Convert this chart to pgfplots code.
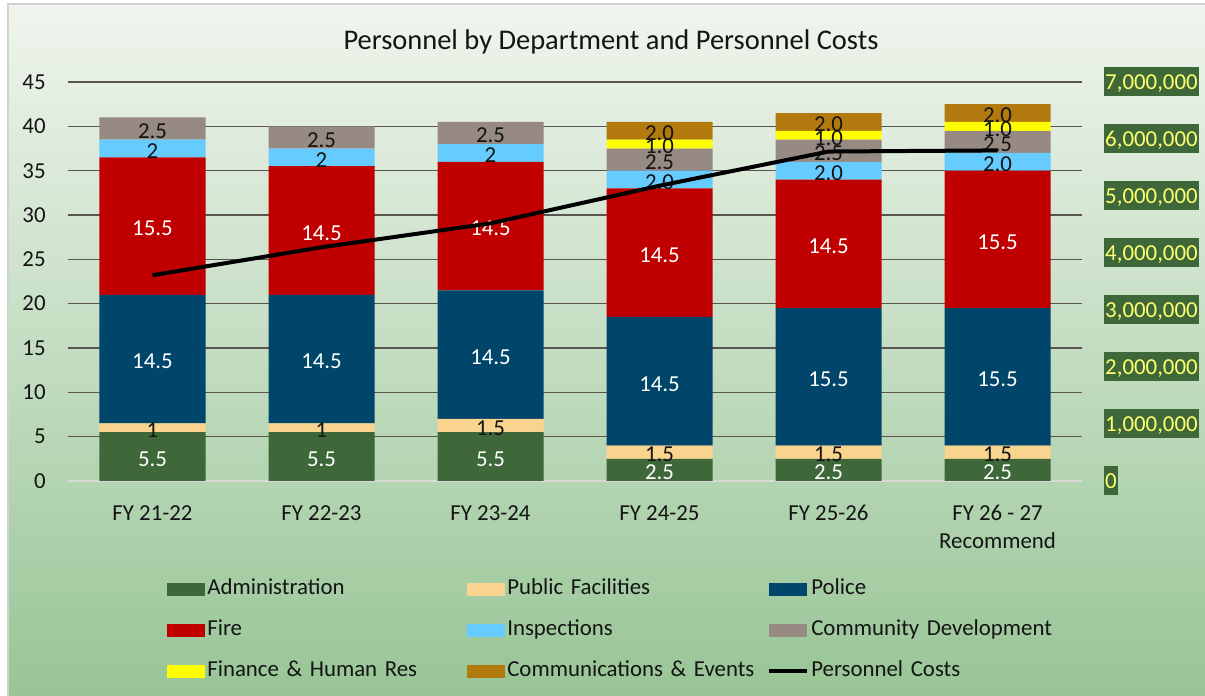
\documentclass[border=0pt]{standalone}
\usepackage{fontspec}
\setmainfont{Carlito}
\usepackage{pgfplots}
\pgfplotsset{compat=1.18}
\definecolor{cAdmin}{RGB}{62,104,58}
\definecolor{cPF}{RGB}{249,212,143}
\definecolor{cPolice}{RGB}{0,70,106}
\definecolor{cFire}{RGB}{192,0,0}
\definecolor{cInsp}{RGB}{102,204,255}
\definecolor{cCD}{RGB}{150,138,130}
\definecolor{cFin}{RGB}{255,255,0}
\definecolor{cComm}{RGB}{178,122,14}
\definecolor{bgtop}{RGB}{240,245,238}
\definecolor{bgbot}{RGB}{152,197,150}
\definecolor{gridc}{RGB}{90,85,80}
\definecolor{lblyellow}{RGB}{255,255,110}
\definecolor{txt}{RGB}{20,20,20}
\newcommand\fs{\fontsize{13}{15.6}\selectfont}
\pgfplotsset{
  mybar/.style={fill=#1, draw=none,
    legend image code/.code={\fill[##1] (0cm,-0.13cm) rectangle (0.76cm,0.13cm);}},
  myline/.style={legend image code/.code={\draw[##1] (0cm,0cm) -- (0.76cm,0cm);}},
  lbl/.style={nodes near coords, point meta=explicit symbolic,
    every node near coord/.style={anchor=center, inner sep=0pt, font=\fs, text=#1, yshift=-0.05cm}},
}
\begin{document}
\begin{tikzpicture}[x=1cm,y=1cm]
\useasboundingbox (0,0) rectangle (24.10,13.92);
\fill[white] (0,0) rectangle (24.10,13.92);
\shade[top color=bgtop, bottom color=bgbot] (0.16,0) rectangle (24.10,13.84);
\draw[gray!35, line width=0.04cm] (0.16,0) -- (0.16,13.84) -- (24.10,13.84);
\node[font=\fontsize{16.2}{19}\selectfont, text=txt] at (12.22,13.09) {Personnel by Department and Personnel Costs};
\begin{axis}[
  at={(1.36cm,4.30cm)}, anchor=south west, scale only axis,
  width=20.28cm, height=7.98cm,
  ybar stacked, bar width=2.12cm,
  xmin=-0.5, xmax=5.5, ymin=0, ymax=45,
  ytick={0,5,10,15,20,25,30,35,40,45},
  xtick={0,1,2,3,4,5},
  xticklabels={FY 21-22, FY 22-23, FY 23-24, FY 24-25, FY 25-26, {FY 26 - 27\\Recommend}},
  ymajorgrids, grid style={gridc, line width=0.6pt},
  axis x line*=bottom, axis y line*=left,
  y axis line style={draw=none},
  x axis line style={draw=gray!30, line width=0.04cm},
  major tick length=0pt,
  tick label style={font=\fs, text=txt},
  yticklabel style={anchor=east, inner sep=0pt, xshift=-0.44cm},
  xticklabel style={anchor=north, align=center, inner sep=0pt, yshift=-0.48cm},
  /pgf/number format/assume math mode=true,
  legend columns=3,
  legend cell align=left,
  legend style={at={(0.0976,-0.2406)}, anchor=north west, draw=none, fill=none, inner sep=0pt, column sep=0pt, row sep=0.34cm, font=\fs, text=txt,
    nodes={inner sep=0.04cm, text height=0.3cm, text depth=0.1cm, text width=5.16cm}},
]
\addplot[mybar=cAdmin, lbl=white] coordinates {(0,5.5)[5.5] (1,5.5)[5.5] (2,5.5)[5.5] (3,2.5)[2.5] (4,2.5)[2.5] (5,2.5)[2.5]};
\addlegendentry{Administration}
\addplot[mybar=cPF, lbl=txt] coordinates {(0,1)[1] (1,1)[1] (2,1.5)[1.5] (3,1.5)[1.5] (4,1.5)[1.5] (5,1.5)[1.5]};
\addlegendentry{Public Facilities}
\addplot[mybar=cPolice, lbl=white] coordinates {(0,14.5)[14.5] (1,14.5)[14.5] (2,14.5)[14.5] (3,14.5)[14.5] (4,15.5)[15.5] (5,15.5)[15.5]};
\addlegendentry{Police}
\addplot[mybar=cFire, lbl=white] coordinates {(0,15.5)[15.5] (1,14.5)[14.5] (2,14.5)[14.5] (3,14.5)[14.5] (4,14.5)[14.5] (5,15.5)[15.5]};
\addlegendentry{Fire}
\addplot[mybar=cInsp, lbl=txt] coordinates {(0,2)[2] (1,2)[2] (2,2)[2] (3,2)[2.0] (4,2)[2.0] (5,2)[2.0]};
\addlegendentry{Inspections}
\addplot[mybar=cCD, lbl=txt] coordinates {(0,2.5)[2.5] (1,2.5)[2.5] (2,2.5)[2.5] (3,2.5)[2.5] (4,2.5)[2.5] (5,2.5)[2.5]};
\addlegendentry{Community Development}
\addplot[mybar=cFin, lbl=txt] coordinates {(0,0)[] (1,0)[] (2,0)[] (3,1)[1.0] (4,1)[1.0] (5,1)[1.0]};
\addlegendentry{Finance \& Human Res}
\addplot[mybar=cComm, lbl=txt] coordinates {(0,0)[] (1,0)[] (2,0)[] (3,2)[2.0] (4,2)[2.0] (5,2)[2.0]};
\addlegendentry{Communications \& Events}
\addlegendimage{myline, black, line width=0.08cm}
\addlegendentry{Personnel Costs}
\end{axis}
\begin{axis}[
  at={(1.36cm,4.30cm)}, anchor=south west, scale only axis,
  width=20.28cm, height=7.98cm,
  xmin=-0.5, xmax=5.5, ymin=0, ymax=7000000,
  ytick={0,1000000,2000000,3000000,4000000,5000000,6000000,7000000},
  axis y line*=right, axis x line=none,
  y axis line style={draw=none},
  major tick length=0pt,
  scaled y ticks=false,
  yticklabel style={anchor=west, font=\fs, text=lblyellow, fill=cAdmin, inner xsep=0.5pt, inner ysep=0pt, text height=0.435cm, text depth=0.145cm, xshift=0.44cm,
    /pgf/number format/.cd, fixed, 1000 sep={,}, assume math mode=true},
]
\addplot[black, line width=0.08cm, line join=round] coordinates {(0,3610000) (1,4100000) (2,4520000) (3,5180000) (4,5780000) (5,5800000)};
\end{axis}
\end{tikzpicture}
\end{document}
